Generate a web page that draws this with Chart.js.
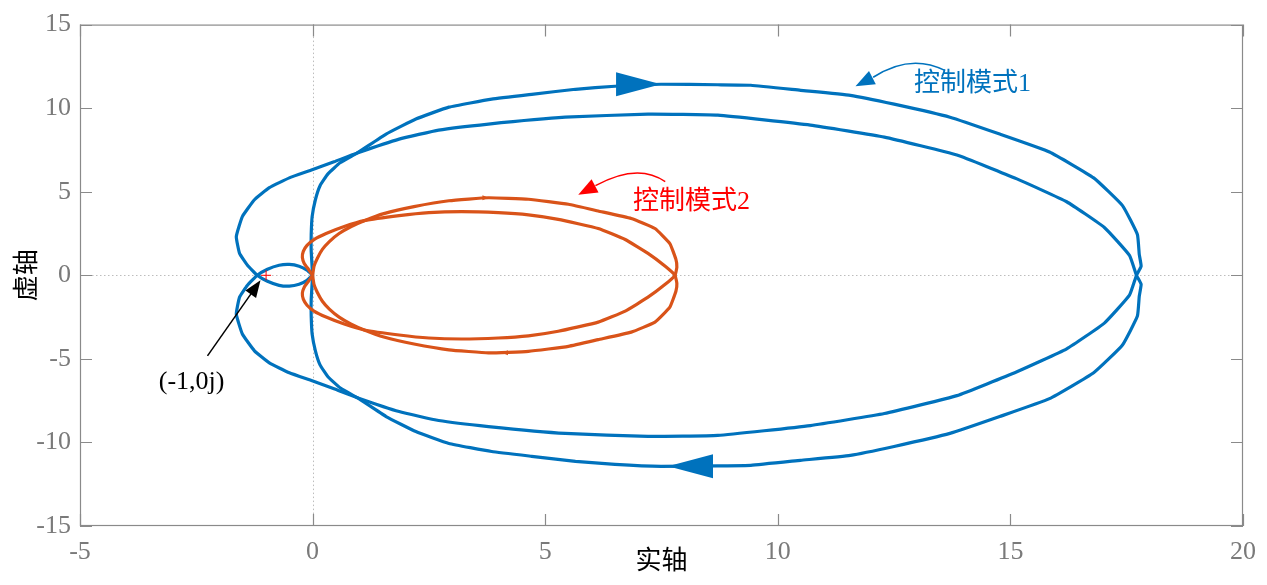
<!DOCTYPE html>
<html lang="zh">
<head>
<meta charset="UTF-8">
<title>Nyquist 控制模式</title>
<script src="https://cdn.jsdelivr.net/npm/chart.js@4.4.0/dist/chart.umd.min.js"></script>
<style>
  html, body { margin: 0; padding: 0; background: #fff; }
  canvas { display: block; }
</style>
</head>
<body>
<canvas id="nyq" width="1267" height="585"></canvas>
<script>
// 控制模式1, w > 0 branch  [re, im]
const mode1Pos = [
  [0,0],[-0.03,1.43],[-0.03,2.44],[-0.01,3.51],[0.06,4.52],[0.16,5.36],[0.33,6.07],[0.59,6.73],[0.96,7.32],
  [1.58,8.45],[2.22,9.35],[2.93,10.06],[3.85,10.54],[4.71,10.83],[5.65,11.13],[6.5,11.31],[7.49,11.43],
  [8.71,11.4],[9.42,11.37],[10.49,11.07],[11.56,10.77],[12.5,10.24],[13.7,9.46],[14.77,8.45],[15.84,7.38],
  [16.79,5.83],[17.41,4.17],[17.73,2.44],[17.77,1.25],[17.81,0.54],[17.71,0],
  [17.56,-1.19],[17.02,-2.86],[16.21,-4.4],[15.14,-5.77],[13.85,-7.2],[12.29,-8.27],[10.7,-8.99],
  [8.71,-9.58],[7.21,-9.64],[5.43,-9.46],[3.78,-9.05],[2.71,-8.69],[1.86,-8.15],[0.96,-7.32],
  [0.46,-6.79],[-0.01,-6.31],[-0.5,-5.83],[-0.93,-5.24],[-1.25,-4.52],[-1.51,-3.51],[-1.64,-2.32],
  [-1.57,-1.31],[-1.4,-0.6],[-1.19,0],
  [-0.97,0.36],[-0.72,0.6],[-0.5,0.65],[-0.29,0.54],[-0.12,0.3],[0,0]
];
// 控制模式1, w < 0 branch
const mode1Neg = [
  [0,0],[-0.03,-1.43],[-0.03,-2.44],[-0.01,-3.51],[0.06,-4.52],[0.16,-5.36],[0.33,-6.07],[0.59,-6.73],[0.96,-7.32],
  [1.58,-8.45],[2.22,-9.35],[2.93,-10.06],[3.85,-10.54],[4.71,-10.83],[5.65,-11.13],[6.5,-11.31],[7.49,-11.43],
  [8.71,-11.4],[9.42,-11.37],[10.49,-11.07],[11.56,-10.77],[12.5,-10.24],[13.7,-9.46],[14.77,-8.45],[15.84,-7.38],
  [16.79,-5.83],[17.41,-4.17],[17.73,-2.44],[17.77,-1.25],[17.81,-0.54],[17.71,0],
  [17.56,1.19],[17.02,2.86],[16.21,4.4],[15.14,5.77],[13.85,7.2],[12.29,8.27],[10.7,8.99],
  [8.71,9.58],[7.21,9.64],[5.43,9.46],[3.78,9.05],[2.71,8.69],[1.86,8.15],[0.96,7.32],
  [0.46,6.79],[-0.01,6.31],[-0.5,5.83],[-0.93,5.24],[-1.25,4.52],[-1.51,3.51],[-1.64,2.32],
  [-1.57,1.31],[-1.4,0.6],[-1.19,0],
  [-0.97,-0.36],[-0.72,-0.6],[-0.5,-0.65],[-0.29,-0.54],[-0.12,-0.3],[0,0]
];
// 控制模式2, w > 0 branch
const mode2Pos = [
  [0,0],[0.03,0.54],[0.1,1.01],[0.21,1.55],[0.36,2.02],[0.57,2.5],[0.83,2.92],[1.11,3.27],
  [1.53,3.69],[2.18,4.11],[2.93,4.46],[3.78,4.64],[4.64,4.55],[5.5,4.25],[6.14,3.85],[6.85,3.4],
  [7.36,2.8],[7.68,1.9],[7.81,0.95],[7.83,0.48],[7.79,0],
  [7.58,-0.54],[7.21,-1.31],[6.72,-2.14],[6.14,-2.8],[5.28,-3.35],[4.64,-3.62],[3.99,-3.75],
  [3.2,-3.81],[2.5,-3.75],[1.86,-3.57],[1.11,-3.27],
  [0.68,-2.92],[0.29,-2.5],[0.03,-2.14],[-0.12,-1.79],[-0.2,-1.43],[-0.22,-1.07],[-0.18,-0.71],[-0.09,-0.36],[0,0]
];
// 控制模式2, w < 0 branch
const mode2Neg = [
  [0,0],[0.03,-0.54],[0.1,-1.01],[0.21,-1.55],[0.36,-2.02],[0.57,-2.5],[0.83,-2.92],[1.11,-3.27],
  [1.53,-3.69],[2.18,-4.11],[2.93,-4.46],[3.78,-4.64],[4.64,-4.55],[5.5,-4.25],[6.14,-3.85],[6.85,-3.4],
  [7.36,-2.8],[7.68,-1.9],[7.81,-0.95],[7.83,-0.48],[7.79,0],
  [7.58,0.54],[7.21,1.31],[6.72,2.14],[6.14,2.8],[5.28,3.35],[4.64,3.62],[3.99,3.75],
  [3.2,3.81],[2.5,3.75],[1.86,3.57],[1.11,3.27],
  [0.68,2.92],[0.29,2.5],[0.03,2.14],[-0.12,1.79],[-0.2,1.43],[-0.22,1.07],[-0.18,0.71],[-0.09,0.36],[0,0]
];
const critPoint = [[-1, 0]];
const xTicks = [-5, 0, 5, 10, 15, 20];
const yTicks = [-15, -10, -5, 0, 5, 10, 15];

// direction arrows on the curves (tip position, +1 = pointing right)
const dirArrows = [
  { x: 7.49, y: 11.43, dir: 1, len: 45, hw: 12, color: '#0072BD' },
  { x: 7.64, y: -11.43, dir: -1, len: 45, hw: 12, color: '#0072BD' },
  { x: 3.78, y: 4.64, dir: 1, len: 6, hw: 2.5, color: '#D95319' },
  { x: 4.07, y: -4.64, dir: -1, len: 6, hw: 2.5, color: '#D95319' }
];

const BLUE = '#0072BD', ORANGE = '#D95319';
const SERIF = '"Liberation Serif", "Times New Roman", serif';
const CJK = '"Liberation Serif", "Noto Sans CJK SC", serif';

const pts = a => a.map(p => ({ x: p[0], y: p[1] }));

function head(ctx, tx, ty, dx, dy, len, hw) {
  const L = Math.hypot(dx, dy), ux = dx / L, uy = dy / L;
  const bx = tx - ux * len, by = ty - uy * len;
  ctx.beginPath();
  ctx.moveTo(tx, ty);
  ctx.lineTo(bx - uy * hw, by + ux * hw);
  ctx.lineTo(bx + uy * hw, by - ux * hw);
  ctx.closePath();
  ctx.fill();
}

// curved callout arrow: start, control, end (data units), tip
function callout(ctx, x, y, s, c, e, t, color, len, hw) {
  const P = p => [x.getPixelForValue(p[0]), y.getPixelForValue(p[1])];
  const S = P(s), C = P(c), E = P(e), T = P(t);
  ctx.strokeStyle = color; ctx.fillStyle = color; ctx.lineWidth = 1.5;
  ctx.beginPath(); ctx.moveTo(S[0], S[1]); ctx.quadraticCurveTo(C[0], C[1], E[0], E[1]); ctx.stroke();
  head(ctx, T[0], T[1], T[0] - E[0], T[1] - E[1], len, hw);
}

const deco = {
  id: 'deco',
  beforeDatasetsDraw(chart) {
    const { ctx, chartArea: a, scales: { x, y } } = chart;
    ctx.save();
    ctx.strokeStyle = '#bdbdbd'; ctx.lineWidth = 1; ctx.setLineDash([1.5, 2.5]);
    const x0 = Math.round(x.getPixelForValue(0)) + 0.5;
    const y0 = Math.round(y.getPixelForValue(0)) + 0.5;
    ctx.beginPath();
    ctx.moveTo(x0, a.top); ctx.lineTo(x0, a.bottom);
    ctx.moveTo(a.left, y0); ctx.lineTo(a.right, y0);
    ctx.stroke();
    ctx.restore();
  },
  afterDatasetsDraw(chart) {
    const { ctx, chartArea: a, scales: { x, y } } = chart;
    ctx.save();
    // box and inward ticks
    ctx.strokeStyle = '#8a8a8a'; ctx.lineWidth = 1.2;
    ctx.strokeRect(a.left + 0.5, a.top + 0.5, a.right - a.left - 1, a.bottom - a.top - 1);
    const tl = 12;
    ctx.beginPath();
    xTicks.forEach(v => {
      const px = Math.round(x.getPixelForValue(v)) + 0.5;
      ctx.moveTo(px, a.bottom); ctx.lineTo(px, a.bottom - tl);
      ctx.moveTo(px, a.top); ctx.lineTo(px, a.top + tl);
    });
    yTicks.forEach(v => {
      const py = Math.round(y.getPixelForValue(v)) + 0.5;
      ctx.moveTo(a.left, py); ctx.lineTo(a.left + tl, py);
      ctx.moveTo(a.right, py); ctx.lineTo(a.right - tl, py);
    });
    ctx.stroke();

    // direction arrows
    dirArrows.forEach(d => {
      ctx.fillStyle = d.color;
      head(ctx, x.getPixelForValue(d.x), y.getPixelForValue(d.y), d.dir, 0, d.len, d.hw);
    });

    // callouts
    callout(ctx, x, y, [13.59, 12.26], [12.85, 13.3], [12.05, 11.85], [11.67, 11.31], BLUE, 19, 7.5);
    callout(ctx, x, y, [7.58, 5.6], [6.99, 6.75], [6.08, 5.36], [5.71, 4.82], '#FF0000', 19, 7.5);
    // (-1,0j) pointer
    ctx.strokeStyle = '#000'; ctx.fillStyle = '#000'; ctx.lineWidth = 1.5;
    const sx = x.getPixelForValue(-2.26), sy = y.getPixelForValue(-4.82);
    const tx = x.getPixelForValue(-1.12), ty = y.getPixelForValue(-0.3);
    ctx.beginPath(); ctx.moveTo(sx, sy); ctx.lineTo(tx - (tx - sx) * 0.15, ty - (ty - sy) * 0.15); ctx.stroke();
    head(ctx, tx, ty, tx - sx, ty - sy, 17, 6.5);

    // texts
    ctx.textBaseline = 'middle';
    ctx.textAlign = 'left';
    ctx.font = '26px ' + CJK;
    ctx.fillStyle = BLUE;
    ctx.fillText('控制模式1', x.getPixelForValue(12.93), y.getPixelForValue(11.43));
    ctx.fillStyle = '#FF0000';
    ctx.fillText('控制模式2', x.getPixelForValue(6.89), y.getPixelForValue(4.4));
    ctx.fillStyle = '#000';
    ctx.textAlign = 'center';
    ctx.font = '26px ' + SERIF;
    ctx.fillText('(-1,0j)', x.getPixelForValue(-2.6), y.getPixelForValue(-6.37));

    // axis titles
    ctx.font = '26px ' + CJK;
    ctx.fillText('实轴', (a.left + a.right) / 2, 562);
    ctx.translate(28, (a.top + a.bottom) / 2);
    ctx.rotate(-Math.PI / 2);
    ctx.fillText('虚轴', 0, 0);
    ctx.restore();
  }
};

const lineSet = (data, color, order) => ({
  data: pts(data), showLine: true, borderColor: color, borderWidth: 3.2,
  borderJoinStyle: 'round', pointRadius: 0, fill: false, tension: 0.12, order
});

new Chart(document.getElementById('nyq'), {
  type: 'scatter',
  data: {
    datasets: [
      lineSet(mode1Pos, BLUE, 3),
      lineSet(mode1Neg, BLUE, 3),
      lineSet(mode2Pos, ORANGE, 2),
      lineSet(mode2Neg, ORANGE, 2),
      {
        data: pts(critPoint), pointStyle: 'cross', pointRadius: 5,
        borderColor: '#FF0000', borderWidth: 1, order: 1
      }
    ]
  },
  options: {
    responsive: false,
    animation: false,
    layout: { padding: { top: 22, right: 20, left: 0, bottom: 0 } },
    plugins: { legend: { display: false }, tooltip: { enabled: false } },
    scales: {
      x: {
        type: 'linear', min: -5, max: 20,
        afterFit: s => { s.height = 59; },
        afterBuildTicks: s => { s.ticks = xTicks.map(v => ({ value: v })); },
        grid: { display: false, drawTicks: false },
        border: { display: false },
        ticks: { padding: 11, color: '#7a7a7a', font: { family: SERIF, size: 26 } }
      },
      y: {
        type: 'linear', min: -15, max: 15,
        afterFit: s => { s.width = 80; },
        afterBuildTicks: s => { s.ticks = yTicks.map(v => ({ value: v })); },
        grid: { display: false, drawTicks: false },
        border: { display: false },
        ticks: { padding: 9, color: '#7a7a7a', font: { family: SERIF, size: 26 } }
      }
    }
  },
  plugins: [deco]
});
</script>
</body>
</html>
